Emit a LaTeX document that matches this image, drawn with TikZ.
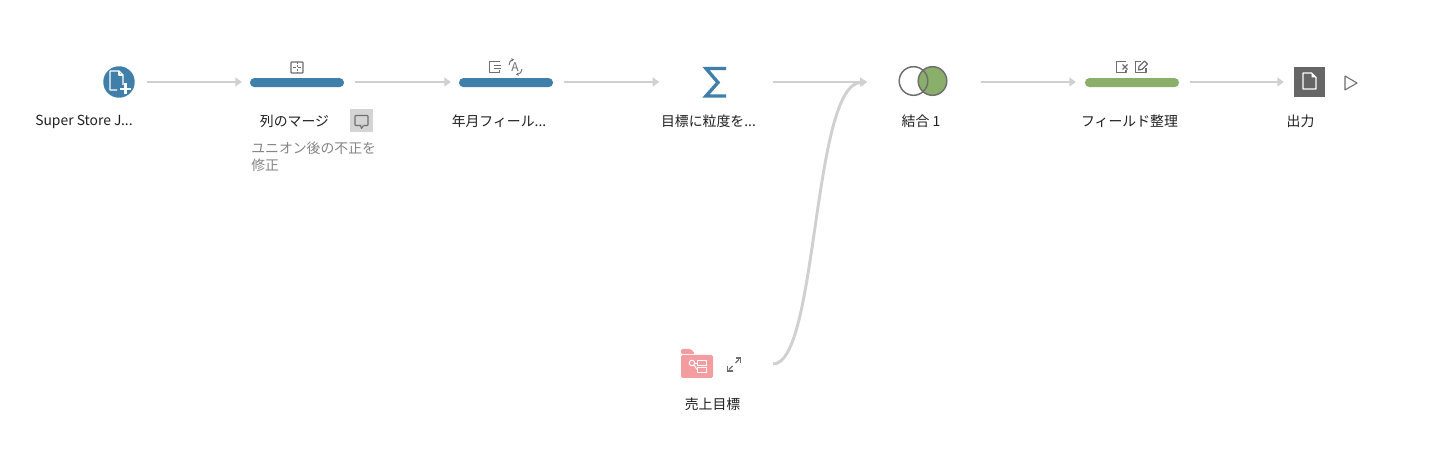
\documentclass[tikz,border=0pt]{standalone}
\usepackage{fontspec}
\setmainfont{Noto Sans CJK JP}
\usetikzlibrary{arrows.meta}
\definecolor{flowblue}{HTML}{3F7FA9}
\definecolor{flowgreen}{HTML}{89AF6B}
\definecolor{linkgray}{HTML}{D0D0D0}
\definecolor{icongray}{HTML}{6E6E6E}
\definecolor{boxgray}{HTML}{666666}
\definecolor{folderpink}{HTML}{F49DA0}
\definecolor{notegray}{HTML}{D4D4D4}
\definecolor{notetext}{HTML}{858585}
\tikzset{
  link/.style={draw=linkgray,line width=2.2pt,-{Triangle[length=5pt,width=6.5pt,fill=linkgray]}},
  bar/.style={draw=none,fill=#1,rounded corners=3.3pt,minimum width=70.5pt,minimum height=6.8pt,inner sep=0pt,outer sep=0pt},
  anchorpt/.style={inner sep=0pt,outer sep=0pt,minimum size=0pt},
  lbl/.style={font=\fontsize{10.4pt}{12pt}\selectfont,text=black!88,inner sep=0pt,anchor=center},
  icon/.style={draw=icongray,line width=0.9pt,line join=round},
  whiteicon/.style={draw=white,line width=0.9pt,line join=round}
}
\begin{document}
\begin{tikzpicture}[x=0.75pt,y=-0.75pt]
\useasboundingbox (0,0) rectangle (1453,473);
\fill[white] (0,0) rectangle (1453,473);

% nodes
\node[circle,fill=flowblue,minimum size=23.6pt,inner sep=0pt,outer sep=0pt] (input) at (119,82) {};
\node[bar=flowblue] (merge) at (297,82.6) {};
\node[bar=flowblue] (ym) at (506,82.6) {};
\node[anchorpt,minimum width=24pt,minimum height=30pt] (agg) at (714,82) {};
\node[anchorpt,minimum width=36pt,minimum height=24pt] (join) at (923,82) {};
\node[bar=flowgreen] (tidy) at (1132,82.6) {};
\node[fill=boxgray,minimum size=23.2pt,inner sep=0pt,outer sep=0pt] (out) at (1309.5,82) {};
\node[anchorpt,minimum width=33pt,minimum height=27pt] (folder) at (697,364) {};
\coordinate (mergein) at (867,82);
\coordinate (curvestart) at (773,364);

% connectors
\draw[link] ([xshift=9pt]input.east) -- ([xshift=-6pt,yshift=0.45pt]merge.west);
\draw[link] ([xshift=8pt,yshift=0.45pt]merge.east) -- ([xshift=-6pt,yshift=0.45pt]ym.west);
\draw[link] ([xshift=8pt,yshift=0.45pt]ym.east) -- ([xshift=-29pt]agg.west);
\draw[link] ([xshift=32pt]agg.east) -- (mergein);
\draw[link] ([xshift=25.5pt]join.east) -- ([xshift=-6.75pt,yshift=0.45pt]tidy.west);
\draw[link] ([xshift=8pt,yshift=0.45pt]tidy.east) -- ([xshift=-7.5pt]out.west);
\draw[link] (curvestart) .. controls (818,364) and (812,85) .. (mergein);

% input icon
\begin{scope}[shift={(119,82)}]
  \draw[whiteicon] (-9,-11) -- (0,-11) -- (4,-7) -- (4,3) (-9,-11) -- (-9,8) -- (-2,8);
  \draw[whiteicon] (0,-11) -- (0,-7) -- (4,-7);
  \draw[white,line width=1.6pt] (1,7) -- (12,7) (6.5,1.5) -- (6.5,12.5);
\end{scope}

% column merge icon
\begin{scope}[shift={(297,67.5)}]
  \draw[icon,rounded corners=0.5pt] (-6,-5.5) rectangle (6,5.5);
  \draw[icon,line width=0.7pt] (-4,0) -- (-1,0) (1,0) -- (4,0);
  \draw[icon,line width=0.7pt,dash pattern=on 1.5pt off 1pt] (0,-5.5) -- (0,5.5);
\end{scope}

% comment icon
\node[fill=notegray,minimum size=17.25pt,inner sep=0pt,outer sep=0pt] (note) at (361.5,121) {};
\begin{scope}[shift={(361.5,121)}]
  \draw[icon,line width=0.8pt,rounded corners=0.5pt] (-6.5,-5.5) rectangle (6.5,4.5);
  \draw[notegray,line width=1pt] (-1,4.5) -- (2,4.5);
  \draw[icon,line width=0.8pt] (-1,4.5) -- (0,7.5) -- (2,4.5);
\end{scope}

% year-month icons
\begin{scope}[shift={(495,67)}]
  \draw[icon] (4.5,-5.5) -- (-5.5,-5.5) -- (-5.5,5.5) -- (4.5,5.5) -- (4.5,3);
  \draw[icon] (-1.5,-1.2) -- (6,-1.2) (-1.5,1.5) -- (6,1.5);
\end{scope}
\begin{scope}[shift={(515,67)}]
  \node[font=\fontsize{9pt}{9pt}\selectfont,text=icongray,inner sep=0pt] (ymA) at (0,0) {A};
  \draw[icon,line width=0.7pt,-{Stealth[length=2pt,width=2.5pt]}] (-6,-2) .. controls (-6,-5) and (-4,-7) .. (-1,-7.5);
  \draw[icon,line width=0.7pt,-{Stealth[length=2pt,width=2.5pt]}] (7,2) .. controls (7,5) and (5,7) .. (1,7.5);
\end{scope}

% sigma
\draw[flowblue,line width=2.5pt,miter limit=10] (726,68.5) -- (706,68.5) -- (718,82.5) -- (706,96) -- (726,96);

% join icon
\draw[draw=icongray,line width=1.1pt,fill=white] (913.5,81) circle[radius=14.3];
\draw[draw=icongray,line width=1.1pt,fill=flowgreen] (932.5,81) circle[radius=14.3];
\begin{scope}
  \clip (932.5,81) circle[radius=14.3];
  \draw[icongray,line width=1.1pt] (913.5,81) circle[radius=14.3];
\end{scope}

% tidy icons
\begin{scope}[shift={(1122,67)}]
  \draw[icon] (4,-5.5) -- (-5.5,-5.5) -- (-5.5,5.5) -- (4,5.5) -- (4,3);
  \draw[icon] (0.5,-2.5) -- (5.5,2.5) (0.5,2.5) -- (5.5,-2.5);
\end{scope}
\begin{scope}[shift={(1141,67)}]
  \draw[icon] (0,-5.5) -- (-5.5,-5.5) -- (-5.5,5.5) -- (5,5.5) -- (5,1);
  \draw[icon] (-2.5,3) -- (-2,-0.5) -- (3.5,-6) -- (6.5,-3) -- (1,2.5) -- cycle;
\end{scope}

% output icon
\begin{scope}[shift={(1309.5,81)}]
  \draw[whiteicon] (-6.5,-8) -- (2,-8) -- (6.5,-3.5) -- (6.5,8) -- (-6.5,8) -- cycle;
  \fill[white] (2,-8) -- (6.5,-3.5) -- (2,-3.5) -- cycle;
\end{scope}
% run triangle
\draw[icon,line width=0.8pt] (1345,76) -- (1357,83) -- (1345,90) -- cycle;

% folder
\fill[folderpink,rounded corners=1pt] (681,349) -- (691,349) -- (695,354) -- (681,354) -- cycle;
\fill[folderpink,rounded corners=1.2pt] (681,355) rectangle (713,378);
\draw[white,line width=0.7pt] (692,363) circle[radius=2.8];
\draw[white,line width=0.7pt] (694.8,363) -- (697,363);
\draw[white,line width=0.7pt] (694,365) -- (697,369.5);
\draw[white,line width=0.7pt] (697,360) rectangle (706,365);
\draw[white,line width=0.7pt] (697,367) rectangle (706,372);
% expand
\begin{scope}[shift={(734,364.5)}]
  \draw[icongray,line width=0.9pt] (-5,5) -- (-1.5,1.5) (1.5,-1.5) -- (5,-5);
  \draw[icongray,line width=1pt] (1.5,-6.5) -- (6.5,-6.5) -- (6.5,-1.5);
  \draw[icongray,line width=1pt] (-6.5,1.5) -- (-6.5,6.5) -- (-1.5,6.5);
\end{scope}

% labels
\node[lbl] (tinput) at (84,121.5) {Super Store J...};
\node[lbl] (tmerge) at (294.5,121.5) {列のマージ};
\node[lbl] (tym) at (499,121.5) {年月フィール...};
\node[lbl] (tagg) at (708.5,121.5) {目標に粒度を...};
\node[lbl] (tjoin) at (921,121.5) {結合 1};
\node[lbl] (ttidy) at (1129.5,121.5) {フィールド整理};
\node[lbl] (tout) at (1300.5,121.5) {出力};
\node[lbl] (tfolder) at (712.5,404) {売上目標};
\node[lbl,text=notetext,anchor=north west,align=left,font=\fontsize{10.4pt}{12.75pt}\selectfont] (tnote) at (251,142) {ユニオン後の不正を\\修正};
\end{tikzpicture}
\end{document}
